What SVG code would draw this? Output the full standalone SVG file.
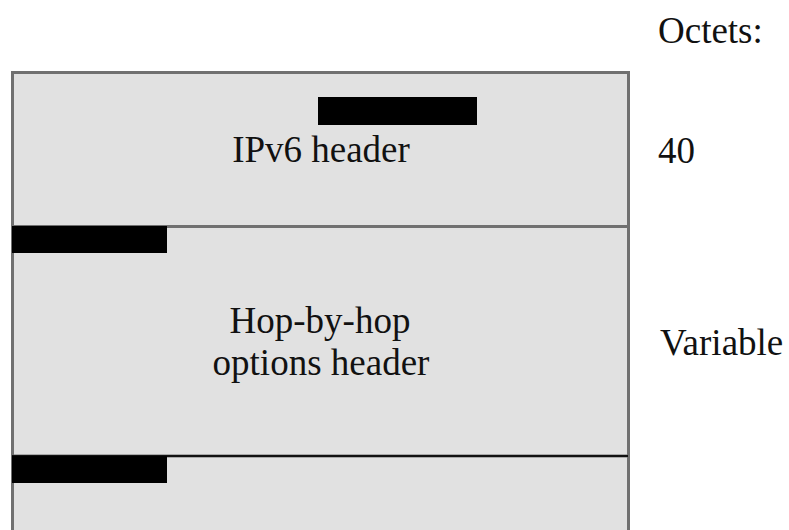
<svg xmlns="http://www.w3.org/2000/svg" width="789" height="530" viewBox="0 0 789 530">
<style>
.t{font-family:"Liberation Serif","Times New Roman",serif;font-size:37px;fill:#111}
.m{text-anchor:middle}
.bar{fill:#000}
.box{fill:#e1e1e1;stroke:#707070;stroke-width:3}
</style>
<rect width="789" height="530" fill="#fff"/>
<g id="ipv6-header">
<rect class="box" x="12.5" y="72.5" width="616" height="154"/>
<rect class="bar" x="318" y="97" width="159" height="28"/>
<text class="t m" x="321" y="162">IPv6 header</text>
</g>
<g id="hop-by-hop-header">
<rect class="box" x="12.5" y="226.5" width="616" height="230"/>
<rect class="bar" x="12" y="226" width="155" height="27"/>
<text class="t m" x="320" y="333">Hop-by-hop</text>
<text class="t m" x="321" y="375">options header</text>
</g>
<g id="next-header">
<rect class="box" x="12.5" y="456" width="616" height="90"/>
<line x1="12" y1="456" x2="628" y2="456" stroke="#111" stroke-width="2"/>
<rect class="bar" x="12" y="456" width="155" height="27"/>
</g>
<g id="octets-labels">
<text class="t" x="658" y="43">Octets:</text>
<text class="t" x="658" y="163">40</text>
<text class="t" x="660" y="355">Variable</text>
</g>
<g id="connectors"></g>
</svg>
